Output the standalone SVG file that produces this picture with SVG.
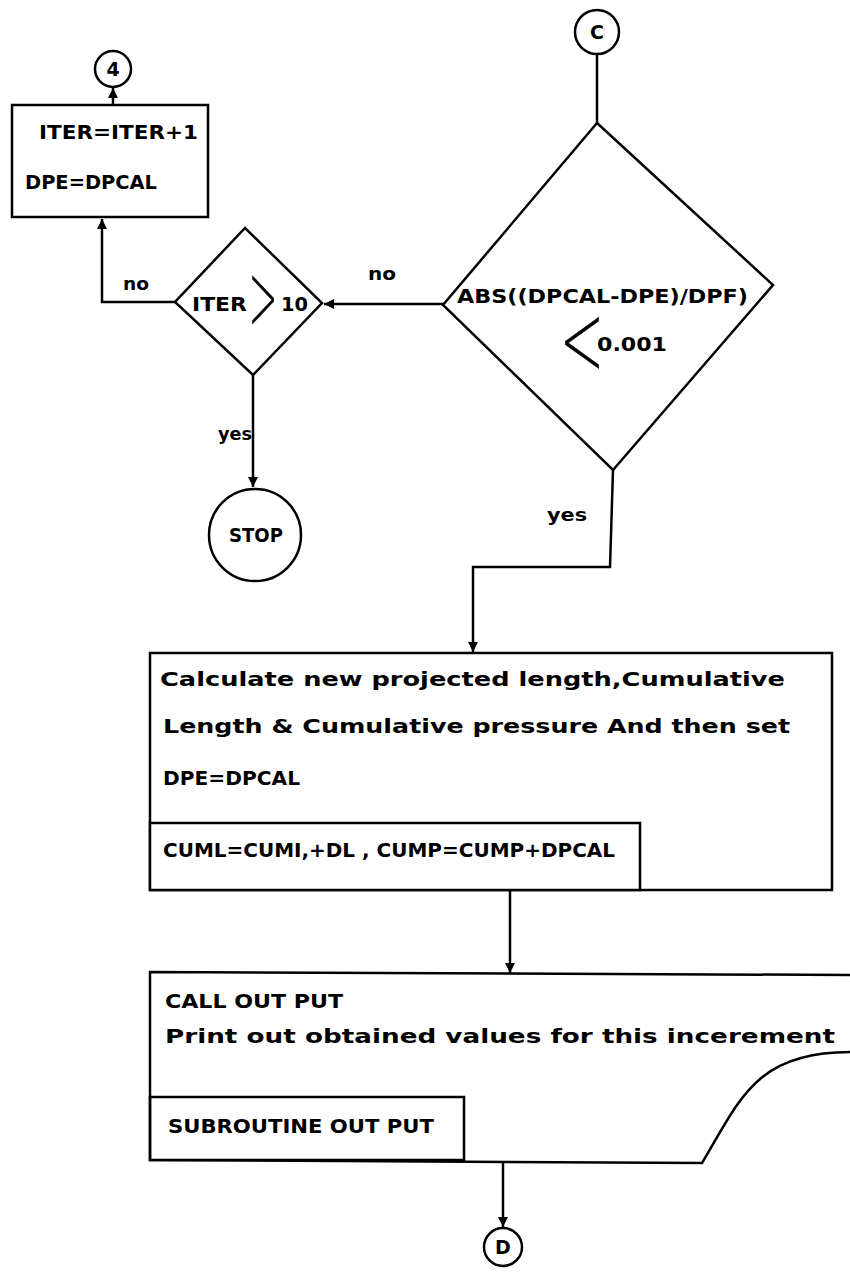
<svg xmlns="http://www.w3.org/2000/svg" width="850" height="1274" viewBox="0 0 850 1274">
<defs>
<marker id="ah" viewBox="0 0 10 10" refX="10" refY="5" markerWidth="10" markerHeight="10" markerUnits="userSpaceOnUse" orient="auto">
<path d="M0,0 L10,5 L0,10 Z" fill="#000"/>
</marker>
<style>
.s{fill:none;stroke:#000;stroke-width:2.5}
.w{fill:#fff;stroke:#000;stroke-width:2.5}
.c{fill:none;stroke:#000;stroke-width:2.5}
.t{font-family:"DejaVu Sans",sans-serif;font-weight:bold;font-size:19px;fill:#000}
.l{font-family:"DejaVu Sans",sans-serif;font-weight:bold;font-size:18px;fill:#000}
.g{font-family:Roboto,Inter,Lato,sans-serif;font-weight:100;fill:#000;stroke:#000;stroke-width:0.6}
</style>
</defs>
<rect width="850" height="1274" fill="#fff"/>

<g id="connectors">
<line class="c" x1="113" y1="105" x2="113" y2="88" marker-end="url(#ah)"/>
<polyline class="c" points="175,302 102,302 102,219" marker-end="url(#ah)"/>
<line class="c" x1="443" y1="304" x2="324" y2="304" marker-end="url(#ah)"/>
<line class="c" x1="253" y1="375" x2="253" y2="487" marker-end="url(#ah)"/>
<line class="c" x1="597" y1="54" x2="597" y2="123"/>
<polyline class="c" points="613,470 610,567 473,567 473,652" marker-end="url(#ah)"/>
<line class="c" x1="510" y1="890" x2="510" y2="973" marker-end="url(#ah)"/>
<line class="c" x1="503" y1="1162" x2="503" y2="1227" marker-end="url(#ah)"/>
<text class="l" x="123" y="290" textLength="26" lengthAdjust="spacingAndGlyphs">no</text>
<text class="l" x="368" y="280" textLength="28" lengthAdjust="spacingAndGlyphs">no</text>
<text class="l" x="218" y="440" textLength="34" lengthAdjust="spacingAndGlyphs">yes</text>
<text class="l" x="547" y="521" textLength="40" lengthAdjust="spacingAndGlyphs">yes</text>
</g>

<g id="conn4">
<circle class="w" cx="113" cy="69" r="18"/>
<text class="t" x="113" y="76" text-anchor="middle">4</text>
</g>

<g id="box1">
<rect class="w" x="12" y="105" width="196" height="112"/>
<text class="t" x="39" y="139" textLength="159" lengthAdjust="spacingAndGlyphs">ITER=ITER+1</text>
<text class="t" x="25" y="189" textLength="132" lengthAdjust="spacingAndGlyphs">DPE=DPCAL</text>
</g>

<g id="dec1">
<polygon class="w" points="245,228 322,303 253,375 175,302"/>
<text class="t" x="192" y="311" textLength="55" lengthAdjust="spacingAndGlyphs">ITER</text>
<text class="g" transform="translate(263,340) scale(0.43,1)" font-size="122" text-anchor="middle">&gt;</text>
<text class="t" x="281" y="311" textLength="27" lengthAdjust="spacingAndGlyphs">10</text>
</g>

<g id="stop">
<circle class="w" cx="255" cy="535" r="46"/>
<text class="t" x="256" y="542" text-anchor="middle" font-size="17" textLength="54" lengthAdjust="spacingAndGlyphs">STOP</text>
</g>

<g id="connC">
<circle class="w" cx="597" cy="32" r="22"/>
<text class="t" x="597" y="39" text-anchor="middle">C</text>
</g>

<g id="dec2">
<polygon class="w" points="597,123 773,285 613,470 443,305"/>
<text class="t" x="457" y="303" textLength="291" lengthAdjust="spacingAndGlyphs">ABS((DPCAL-DPE)/DPF)</text>
<text class="g" transform="translate(583,385) scale(0.63,1)" font-size="130" text-anchor="middle">&lt;</text>
<text class="t" x="597" y="351" textLength="70" lengthAdjust="spacingAndGlyphs">0.001</text>
</g>

<g id="box2">
<rect class="w" x="150" y="653" width="682" height="237"/>
<rect class="w" x="150" y="823" width="490" height="67"/>
<text class="t" x="160" y="686" textLength="625" lengthAdjust="spacingAndGlyphs">Calculate new projected length,Cumulative</text>
<text class="t" x="163" y="733" textLength="627" lengthAdjust="spacingAndGlyphs">Length &amp; Cumulative pressure And then set</text>
<text class="t" x="163" y="785" textLength="137" lengthAdjust="spacingAndGlyphs">DPE=DPCAL</text>
<text class="t" x="163" y="857" textLength="452" lengthAdjust="spacingAndGlyphs">CUML=CUMI,+DL , CUMP=CUMP+DPCAL</text>
</g>

<g id="box3">
<path class="s" d="M850,975 L150,972 L150,1160 L702,1163 C740,1100 755,1052 850,1052"/>
<rect class="s" x="150" y="1097" width="314" height="63"/>
<text class="t" x="165" y="1008" textLength="178" lengthAdjust="spacingAndGlyphs">CALL OUT PUT</text>
<text class="t" x="165" y="1043" textLength="670" lengthAdjust="spacingAndGlyphs">Print out obtained values for this incerement</text>
<text class="t" x="168" y="1133" textLength="266" lengthAdjust="spacingAndGlyphs">SUBROUTINE OUT PUT</text>
</g>

<g id="connD">
<circle class="w" cx="503" cy="1247" r="19"/>
<text class="t" x="503" y="1254" text-anchor="middle" font-size="17">D</text>
</g>
</svg>
